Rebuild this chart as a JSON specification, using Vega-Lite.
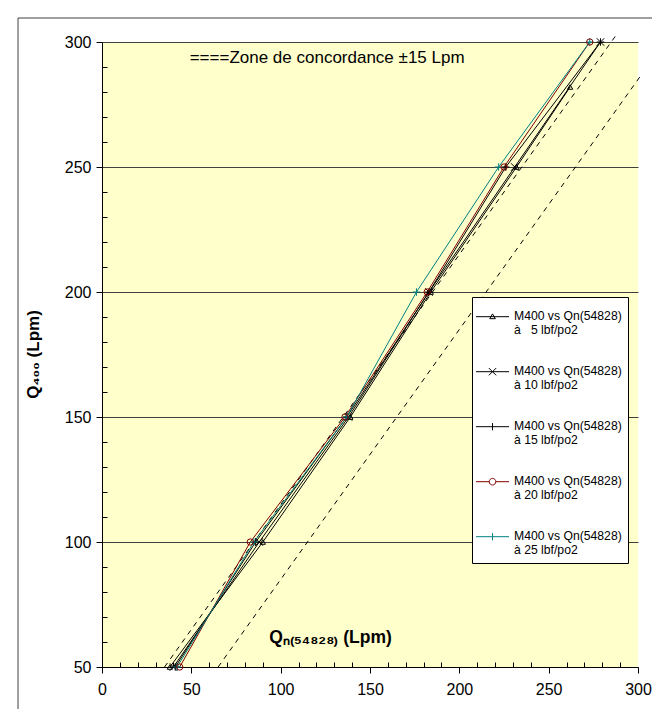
{
  "$schema": "https://vega.github.io/schema/vega-lite/v6.json",
  "width": 536,
  "height": 625,
  "autosize": {"type": "none"},
  "padding": {"left": 102, "top": 42, "right": 14, "bottom": 42},
  "background": "white",
  "config": {
    "view": {"fill": "#FFFFCC", "stroke": null},
    "font": "Liberation Sans"
  },
  "datasets": {
    "mesures": [
      {"pression": "5 lbf/po2", "Qn": 38, "Q400": 50},
      {"pression": "5 lbf/po2", "Qn": 90, "Q400": 100},
      {"pression": "5 lbf/po2", "Qn": 139, "Q400": 150},
      {"pression": "5 lbf/po2", "Qn": 184, "Q400": 200},
      {"pression": "5 lbf/po2", "Qn": 232, "Q400": 250},
      {"pression": "5 lbf/po2", "Qn": 262, "Q400": 282},
      {"pression": "10 lbf/po2", "Qn": 40, "Q400": 50},
      {"pression": "10 lbf/po2", "Qn": 88, "Q400": 100},
      {"pression": "10 lbf/po2", "Qn": 138, "Q400": 150},
      {"pression": "10 lbf/po2", "Qn": 183, "Q400": 200},
      {"pression": "10 lbf/po2", "Qn": 231, "Q400": 250},
      {"pression": "10 lbf/po2", "Qn": 279, "Q400": 300},
      {"pression": "15 lbf/po2", "Qn": 41, "Q400": 50},
      {"pression": "15 lbf/po2", "Qn": 86, "Q400": 100},
      {"pression": "15 lbf/po2", "Qn": 137, "Q400": 150},
      {"pression": "15 lbf/po2", "Qn": 183, "Q400": 200},
      {"pression": "15 lbf/po2", "Qn": 226, "Q400": 250},
      {"pression": "15 lbf/po2", "Qn": 279, "Q400": 300},
      {"pression": "20 lbf/po2", "Qn": 43.5, "Q400": 50},
      {"pression": "20 lbf/po2", "Qn": 83, "Q400": 100},
      {"pression": "20 lbf/po2", "Qn": 136, "Q400": 150},
      {"pression": "20 lbf/po2", "Qn": 182, "Q400": 200},
      {"pression": "20 lbf/po2", "Qn": 225, "Q400": 250},
      {"pression": "20 lbf/po2", "Qn": 273, "Q400": 300},
      {"pression": "25 lbf/po2", "Qn": 42, "Q400": 50},
      {"pression": "25 lbf/po2", "Qn": 85, "Q400": 100},
      {"pression": "25 lbf/po2", "Qn": 137, "Q400": 150},
      {"pression": "25 lbf/po2", "Qn": 176, "Q400": 200},
      {"pression": "25 lbf/po2", "Qn": 222, "Q400": 250},
      {"pression": "25 lbf/po2", "Qn": 273, "Q400": 300}
    ],
    "zone": [
      {"borne": "+15", "Qn": 35, "Q400": 50},
      {"borne": "+15", "Qn": 288, "Q400": 303},
      {"borne": "-15", "Qn": 65, "Q400": 50},
      {"borne": "-15", "Qn": 301, "Q400": 286}
    ]
  },
  "resolve": {
    "scale": {"x": "independent", "y": "independent"},
    "axis": {"x": "independent", "y": "independent"},
    "legend": {"color": "independent", "shape": "independent"}
  },
  "layer": [
    {
      "data": {"values": [{}]},
      "mark": {"type": "rect", "fill": "transparent", "stroke": "#404040", "strokeWidth": 1, "clip": false},
      "encoding": {
        "x": {"datum": -47, "type": "quantitative", "scale": {"domain": [0, 300], "nice": false, "zero": false}, "axis": null},
        "x2": {"datum": 316},
        "y": {"datum": 309.6, "type": "quantitative", "scale": {"domain": [50, 300], "nice": false, "zero": false}, "axis": null},
        "y2": {"datum": 25}
      }
    },
    {
      "data": {"values": [{"texte": "====Zone de concordance ±15 Lpm"}]},
      "mark": {"type": "text", "font": "Liberation Sans", "fontSize": 17, "color": "black", "align": "center", "baseline": "middle"},
      "encoding": {
        "x": {"datum": 126, "type": "quantitative", "scale": {"domain": [0, 300], "nice": false, "zero": false}, "axis": null},
        "y": {"datum": 293.6, "type": "quantitative", "scale": {"domain": [50, 300], "nice": false, "zero": false}, "axis": null},
        "text": {"field": "texte", "type": "nominal"}
      }
    },
    {
      "data": {"name": "zone"},
      "mark": {"type": "line", "stroke": "black", "strokeWidth": 1, "strokeDash": [5, 5], "clip": false},
      "encoding": {
        "x": {
          "field": "Qn", "type": "quantitative",
          "scale": {"domain": [0, 300], "nice": false, "zero": false},
          "axis": {
            "orient": "bottom", "title": null, "labels": false, "domain": false, "ticks": false,
            "grid": true, "gridDash": [5, 2000], "gridDashOffset": 1385, "gridColor": "black", "gridWidth": 1, "gridOpacity": 1,
            "values": [10, 20, 30, 40, 60, 70, 80, 90, 110, 120, 130, 140, 160, 170, 180, 190, 210, 220, 230, 240, 260, 270, 280, 290]
          }
        },
        "y": {
          "field": "Q400", "type": "quantitative",
          "scale": {"domain": [50, 300], "nice": false, "zero": false},
          "axis": {
            "orient": "left", "title": null, "labels": false, "domain": false, "ticks": false,
            "grid": true, "gridDash": [5, 2000], "gridColor": "black", "gridWidth": 1, "gridOpacity": 1,
            "values": [60, 70, 80, 90, 110, 120, 130, 140, 160, 170, 180, 190, 210, 220, 230, 240, 260, 270, 280, 290]
          }
        },
        "detail": {"field": "borne", "type": "nominal"},
        "order": {"field": "Q400", "type": "quantitative"}
      }
    },
    {
      "data": {"name": "mesures"},
      "mark": {"type": "line", "strokeWidth": 1},
      "encoding": {
        "x": {
          "field": "Qn", "type": "quantitative",
          "scale": {"domain": [0, 300], "nice": false, "zero": false},
          "axis": {
            "orient": "bottom",
            "title": "Qₙ₍₅₄₈₂₈₎ (Lpm)",
            "values": [0, 50, 100, 150, 200, 250, 300],
            "tickSize": 6,
            "grid": false,
            "domainColor": "black",
            "tickColor": "black",
            "labelColor": "black",
            "labelFont": "Liberation Sans",
            "labelFontSize": 16,
            "labelPadding": 8,
            "labelOverlap": false,
            "labelFlush": false,
            "titleFont": "Liberation Sans",
            "titleFontSize": 17.5,
            "titleFontWeight": "bold",
            "titleColor": "black",
            "titleX": 228,
            "titleY": -30,
            "titleAlign": "center",
            "titleBaseline": "middle"
          }
        },
        "y": {
          "field": "Q400", "type": "quantitative",
          "scale": {"domain": [50, 300], "nice": false, "zero": false},
          "axis": {
            "orient": "left",
            "title": "Q₄₀₀ (Lpm)",
            "values": [50, 100, 150, 200, 250, 300],
            "tickSize": 6,
            "grid": true,
            "gridColor": "#404040",
            "gridWidth": 1,
            "domainColor": "black",
            "tickColor": "black",
            "labelColor": "black",
            "labelFont": "Liberation Sans",
            "labelFontSize": 16,
            "labelPadding": 5,
            "labelOverlap": false,
            "titleFont": "Liberation Sans",
            "titleFontSize": 17,
            "titleFontWeight": "bold",
            "titleColor": "black",
            "titleX": -69,
            "titleY": 312,
            "titleAngle": -90,
            "titleAlign": "center",
            "titleBaseline": "middle"
          }
        },
        "color": {
          "field": "pression",
          "type": "nominal",
          "scale": {
            "domain": ["5 lbf/po2", "10 lbf/po2", "15 lbf/po2", "20 lbf/po2", "25 lbf/po2"],
            "range": ["#000000", "#000000", "#000000", "#800000", "#008080"]
          },
          "legend": null
        },
        "order": {"field": "Q400", "type": "quantitative"}
      }
    },
    {
      "data": {"name": "mesures"},
      "transform": [{"filter": "datum.pression === '5 lbf/po2'"}],
      "mark": {"type": "point", "shape": "triangle-up", "filled": false, "size": 28, "strokeWidth": 1, "opacity": 1},
      "encoding": {
        "x": {"field": "Qn", "type": "quantitative", "scale": {"domain": [0, 300], "nice": false, "zero": false}, "axis": null},
        "y": {"field": "Q400", "type": "quantitative", "scale": {"domain": [50, 300], "nice": false, "zero": false}, "axis": null},
        "color": {"field": "pression", "type": "nominal", "legend": null}
      }
    },
    {
      "data": {"name": "mesures"},
      "transform": [{"filter": "datum.pression === '10 lbf/po2'"}],
      "mark": {"type": "point", "shape": "M-1,-1L1,1M-1,1L1,-1", "filled": false, "size": 56, "strokeWidth": 1, "opacity": 1},
      "encoding": {
        "x": {"field": "Qn", "type": "quantitative", "scale": {"domain": [0, 300], "nice": false, "zero": false}, "axis": null},
        "y": {"field": "Q400", "type": "quantitative", "scale": {"domain": [50, 300], "nice": false, "zero": false}, "axis": null},
        "color": {"field": "pression", "type": "nominal", "legend": null}
      }
    },
    {
      "data": {"name": "mesures"},
      "transform": [{"filter": "datum.pression === '15 lbf/po2' || datum.pression === '25 lbf/po2'"}],
      "mark": {"type": "point", "shape": "M-1,0H1M0,-1V1", "filled": false, "size": 56, "strokeWidth": 1, "opacity": 1},
      "encoding": {
        "x": {"field": "Qn", "type": "quantitative", "scale": {"domain": [0, 300], "nice": false, "zero": false}, "axis": null},
        "y": {"field": "Q400", "type": "quantitative", "scale": {"domain": [50, 300], "nice": false, "zero": false}, "axis": null},
        "color": {"field": "pression", "type": "nominal", "legend": null}
      }
    },
    {
      "data": {"name": "mesures"},
      "transform": [{"filter": "datum.pression === '20 lbf/po2'"}],
      "mark": {"type": "point", "shape": "circle", "filled": false, "size": 40, "strokeWidth": 1, "opacity": 1},
      "encoding": {
        "x": {"field": "Qn", "type": "quantitative", "scale": {"domain": [0, 300], "nice": false, "zero": false}, "axis": null},
        "y": {"field": "Q400", "type": "quantitative", "scale": {"domain": [50, 300], "nice": false, "zero": false}, "axis": null},
        "color": {"field": "pression", "type": "nominal", "legend": null}
      }
    },
    {
      "data": {"name": "mesures"},
      "transform": [{"filter": "false"}],
      "mark": {"type": "point", "filled": false, "size": 1089, "strokeWidth": 1, "opacity": 1},
      "encoding": {
        "x": {"field": "Qn", "type": "quantitative", "scale": {"domain": [0, 300], "nice": false, "zero": false}, "axis": null},
        "y": {"field": "Q400", "type": "quantitative", "scale": {"domain": [50, 300], "nice": false, "zero": false}, "axis": null},
        "color": {
          "field": "pression",
          "type": "nominal",
          "legend": {
            "title": null,
            "orient": "none",
            "legendX": 370,
            "legendY": 255,
            "padding": 6,
            "fillColor": "white",
            "strokeColor": "black",
            "symbolSize": 1089,
            "symbolStrokeWidth": 1,
            "labelFont": "Liberation Sans",
            "labelFontSize": 12.2,
            "labelColor": "black",
            "labelBaseline": "alphabetic",
            "labelOffset": 2,
            "labelLimit": 0,
            "rowPadding": 21,
            "labelExpr": "['M400 vs Qn(54828)', (length(datum.label) < 10 ? 'à\u00a0\u00a0\u00a0' : 'à ') + datum.label]"
          }
        },
        "shape": {
          "field": "pression",
          "type": "nominal",
          "scale": {
            "domain": ["5 lbf/po2", "10 lbf/po2", "15 lbf/po2", "20 lbf/po2", "25 lbf/po2"],
            "range": [
              "M-1.15,-0.2H0.85M-0.32,-0.08L-0.15,-0.37L0.02,-0.08Z",
              "M-1.15,-0.2H0.85M-0.37,-0.42L0.07,0.02M-0.37,0.02L0.07,-0.42",
              "M-1.15,-0.2H0.85M-0.15,-0.42V0.02",
              "M-1.15,-0.2H-0.35M0.05,-0.2H0.85M-0.35,-0.2A0.2,0.2 0 1,0 0.05,-0.2A0.2,0.2 0 1,0 -0.35,-0.2",
              "M-1.15,-0.2H0.85M-0.15,-0.42V0.02"
            ]
          },
          "legend": {
            "title": null,
            "orient": "none",
            "legendX": 370,
            "legendY": 255,
            "padding": 6,
            "fillColor": "white",
            "strokeColor": "black",
            "symbolSize": 1089,
            "symbolStrokeWidth": 1,
            "labelFont": "Liberation Sans",
            "labelFontSize": 12.2,
            "labelColor": "black",
            "labelBaseline": "alphabetic",
            "labelOffset": 2,
            "labelLimit": 0,
            "rowPadding": 21,
            "labelExpr": "['M400 vs Qn(54828)', (length(datum.label) < 10 ? 'à\u00a0\u00a0\u00a0' : 'à ') + datum.label]"
          }
        }
      }
    }
  ]
}
